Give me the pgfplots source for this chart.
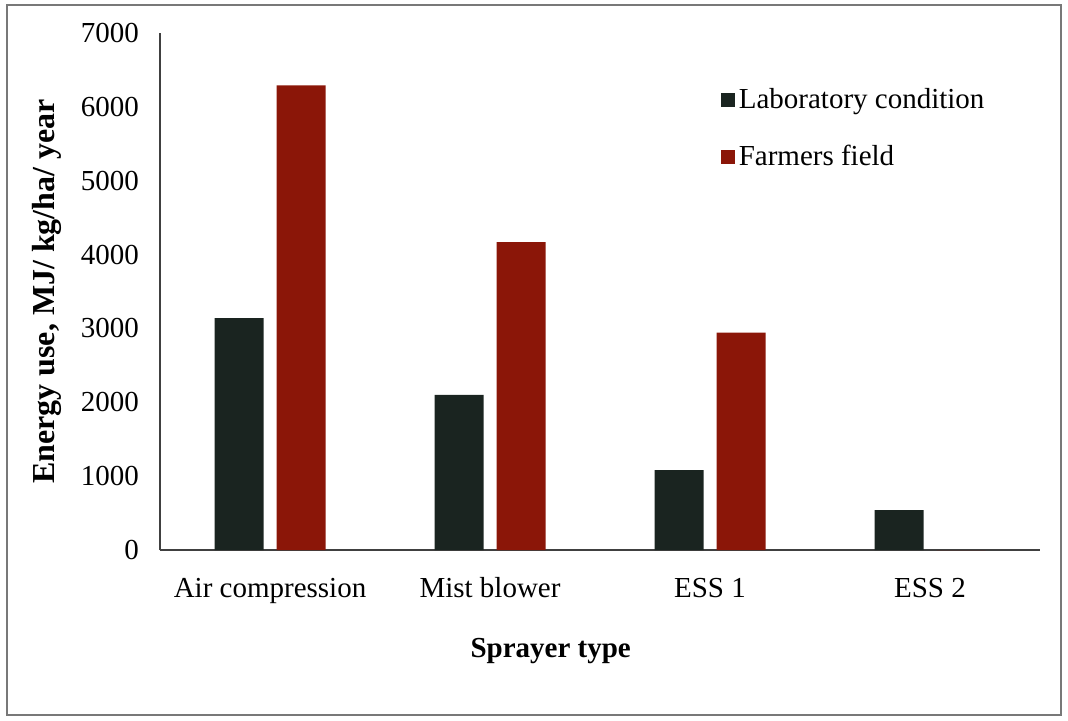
\documentclass[border=0pt]{standalone}
\usepackage{pgfplots}
\pgfplotsset{compat=1.18}
\usepackage{fontspec}
\setmainfont{Liberation Serif}

\definecolor{labdark}{RGB}{26,36,32}
\definecolor{fieldred}{RGB}{139,22,8}
\definecolor{framegrey}{RGB}{120,120,120}

\begin{document}
\begin{tikzpicture}
  % outer frame, which also fixes the picture size
  \draw[framegrey, line width=1pt] (3.5pt,2.5pt) rectangle (530.5pt,357.5pt);
  \path (0,0) rectangle (534pt,360pt);

  \begin{axis}[
    at={(80pt,85pt)}, anchor=south west,
    scale only axis, width=440pt, height=258.5pt,
    ybar, bar width=24.5pt,
    xmin=-0.5, xmax=3.5,
    ymin=0, ymax=7000,
    xtick={0,1,2,3},
    xticklabels={Air compression, Mist blower, ESS 1, ESS 2},
    ytick={0,1000,...,7000},
    scaled y ticks=false,
    /pgf/number format/assume math mode=true,
    /pgf/number format/set thousands separator={},
    tick label style={font=\fontsize{14.5}{16}\selectfont},
    xticklabel style={yshift=-9pt, text height=11pt, text depth=3pt},
    yticklabel style={xshift=-7pt},
    major tick length=0pt,
    axis x line*=bottom, axis y line*=left,
    axis line style={black!75, line width=0.8pt, -},
    ylabel={\textbf{Energy use, MJ/ kg/ha/ year}},
    ylabel style={at={(axis description cs:-0.129,0.5)}, anchor=center,
                  font=\fontsize{16}{18}\selectfont},
    xlabel={\textbf{Sprayer type}},
    xlabel style={at={(axis description cs:0.444,-0.195)}, anchor=center,
                  font=\fontsize{14.5}{16}\selectfont},
    legend style={at={(axis description cs:0.63,0.91)}, anchor=north west,
                  draw=none, fill=none,
                  font=\fontsize{14.5}{16}\selectfont,
                  row sep=13pt, cells={anchor=west}},
    legend image code/.code={\fill[#1] (0pt,-3.5pt) rectangle (7pt,3.5pt);},
  ]
    \addplot[fill=labdark, draw=none, bar shift=-15.5pt]
      coordinates {(0,3140) (1,2100) (2,1080) (3,540)};
    \addplot[fill=fieldred, draw=none, bar shift=15.5pt]
      coordinates {(0,6290) (1,4170) (2,2945) (3,0)};
    \legend{Laboratory condition, Farmers field}
  \end{axis}
\end{tikzpicture}
\end{document}
